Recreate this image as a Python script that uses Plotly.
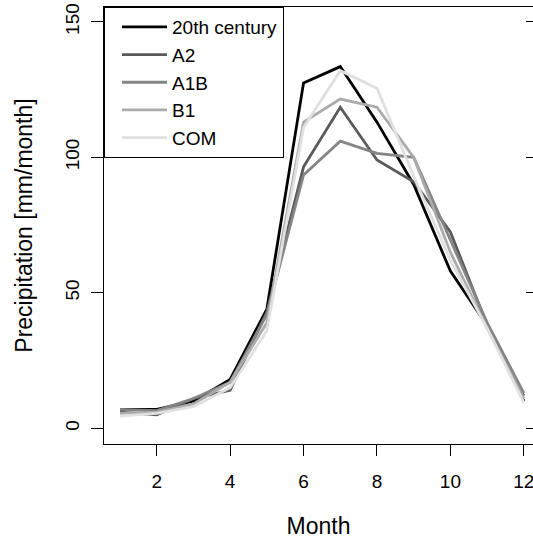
import plotly.graph_objects as go

months = [1, 2, 3, 4, 5, 6, 7, 8, 9, 10, 11, 12]
series_names = ["20th century", "A2", "A1B", "B1", "COM"]
century20 = [7, 7, 10, 18, 44, 127.5, 133.5, 113, 90, 58, 38, 10]
a2 = [6, 5, 11, 14, 43, 96.5, 118.5, 99, 91, 72.5, 38, 12]
a1b = [7, 6.5, 11, 17, 42, 93.5, 106, 101.5, 100, 69.5, 39, 13]
b1 = [5.5, 6, 9, 17, 39, 113, 121.5, 118.5, 100, 65, 37, 11]
com = [4.5, 5.5, 8, 15, 36, 111, 132, 125.5, 93, 62, 37, 9.5]
colors = ["#000000", "#5a5a5a", "#858585", "#ababab", "#e0e0e0"]

x_ticks = [2, 4, 6, 8, 10, 12]
y_ticks = [0, 50, 100, 150]

FONT = "Liberation Sans, Arial, Helvetica, sans-serif"

fig = go.Figure()
for name, vals, col in zip(series_names, [century20, a2, a1b, b1, com], colors):
    fig.add_trace(go.Scatter(x=months, y=vals, mode="lines", name=name,
                             line=dict(color=col, width=2.8)))

# invisible trace carrying the right-side tick marks
fig.add_trace(go.Scatter(x=[months[0]], y=[y_ticks[0]], yaxis="y2", mode="lines",
                         showlegend=False, hoverinfo="skip", line=dict(width=0)))

fig.update_layout(
    width=533, height=539,
    margin=dict(l=104, r=0, t=7, b=95),
    paper_bgcolor="white", plot_bgcolor="white",
    font=dict(family=FONT, size=19, color="black"),
    showlegend=True,
    legend=dict(x=0, y=1, xanchor="left", yanchor="top",
                bordercolor="black", borderwidth=1, bgcolor="white",
                font=dict(size=19), indentation=12, itemwidth=45),
    xaxis=dict(range=[0.564, 12.25], tickvals=x_ticks, ticks="outside", ticklen=11,
               tickcolor="black", showline=True, linecolor="black", linewidth=1,
               mirror=True, showgrid=False, zeroline=False, automargin=False,
               ticklabelstandoff=9, ticklabeloverflow="allow",
               title=dict(text="Month", standoff=28)),
    yaxis=dict(range=[-5.8, 155.5], tickvals=y_ticks, ticks="outside", ticklen=12,
               tickcolor="black", showline=True, linecolor="black", linewidth=1,
               showgrid=False, zeroline=False, tickangle=-90, automargin=False,
               ticklabelstandoff=4, ticklabeloverflow="allow",
               title=dict(text="Precipitation [mm/month]", standoff=23)),
    yaxis2=dict(range=[-5.8, 155.5], tickvals=y_ticks, ticks="inside", ticklen=7,
                tickcolor="black", showticklabels=False, overlaying="y", side="right",
                showgrid=False, zeroline=False, showline=False, automargin=False),
)

# remove the default page margin so the figure fills the window exactly
fig.write_html("out.html",
               config={"displayModeBar": False},
               post_script="document.body.style.margin='0';"
                           "document.documentElement.style.overflow='hidden';")
